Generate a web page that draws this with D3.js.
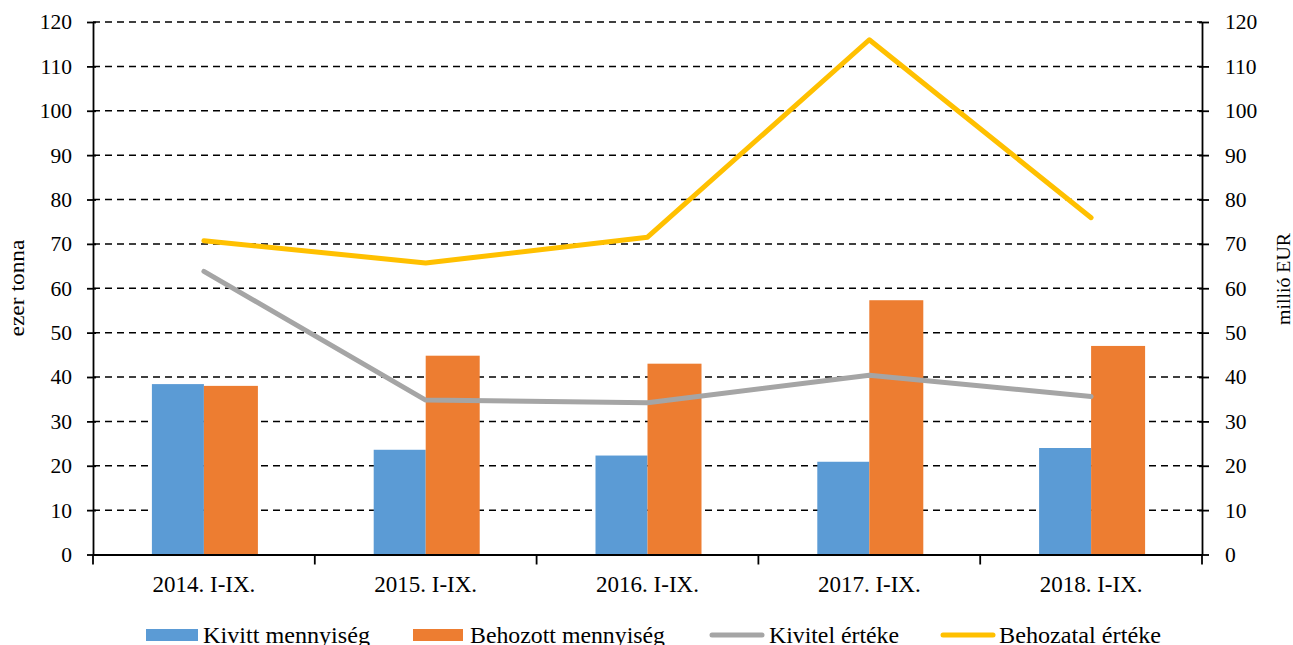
<!DOCTYPE html>
<html><head><meta charset="utf-8">
<script src="https://cdn.jsdelivr.net/npm/d3@7/dist/d3.min.js"></script>
<style>body{margin:0;background:#fff}svg{display:block}text{font-family:"Liberation Serif","Times New Roman",serif;fill:#000}</style>
</head><body>
<svg id="c" width="1293" height="645"></svg>
<script>
const categories = ["2014. I-IX.","2015. I-IX.","2016. I-IX.","2017. I-IX.","2018. I-IX."];
const kivittMennyiseg = [38.4, 23.6, 22.3, 20.9, 24.0];
const behozottMennyiseg = [38.0, 44.8, 43.0, 57.3, 47.0];
const kivitelErteke = [63.8, 34.8, 34.2, 40.4, 35.6];
const behozatalErteke = [70.7, 65.7, 71.5, 116.0, 75.9];
const yTicks = [0,10,20,30,40,50,60,70,80,90,100,110,120];
const leftTitle = "ezer tonna", rightTitle = "millió EUR";
const legendLabels = ["Kivitt mennyiség","Behozott mennyiség","Kivitel értéke","Behozatal értéke"];
const colors = {blue:"#5B9BD5", orange:"#ED7D31", gray:"#A5A5A5", yellow:"#FFC000"};

const svg = d3.select("#c");
const L = 93, R = 1202, T = 22, B = 554.5;
const x = d3.scaleBand().domain(categories).range([L,R]);
const yL = d3.scaleLinear().domain([0,120]).range([B,T]);
const yR = d3.scaleLinear().domain([0,120]).range([B,T]);

// grid
svg.append("g").selectAll("line").data(yTicks.filter(d=>d>0)).join("line")
  .attr("x1",L).attr("x2",R).attr("y1",d=>yL(d)).attr("y2",d=>yL(d))
  .attr("stroke","#000").attr("stroke-width",1.5).attr("stroke-dasharray","7,5");

// bars
const bw = 52;
svg.append("g").selectAll("rect").data(kivittMennyiseg).join("rect")
  .attr("x",(d,i)=>x(categories[i])+x.bandwidth()/2-bw).attr("width",bw)
  .attr("y",d=>yL(d)).attr("height",d=>B-yL(d)).attr("fill",colors.blue);
svg.append("g").selectAll("rect").data(behozottMennyiseg).join("rect")
  .attr("x",(d,i)=>x(categories[i])+x.bandwidth()/2).attr("width",bw+2)
  .attr("y",d=>yL(d)).attr("height",d=>B-yL(d)).attr("fill",colors.orange);

// axes
const leftAxis = d3.axisLeft(yL).tickValues(yTicks).tickSizeInner(6).tickSizeOuter(0).tickPadding(15);
const gl = svg.append("g").attr("transform",`translate(${L},0)`).call(leftAxis);
const rightAxis = d3.axisRight(yR).tickValues(yTicks).tickSizeInner(7).tickSizeOuter(0).tickPadding(16);
const gr = svg.append("g").attr("transform",`translate(${R},0)`).call(rightAxis);
[gl,gr].forEach(g=>{
  g.select(".domain").attr("stroke","#000").attr("stroke-width",1.8);
  g.selectAll(".tick line").attr("stroke","#000").attr("stroke-width",1.8);
  g.selectAll(".tick text").style("font-family","Liberation Serif").style("font-size","21.5px").attr("fill","#000");
});
gl.selectAll(".tick line").attr("x1",3);
gr.selectAll(".tick line").attr("x1",-3);

const xAxis = d3.axisBottom(x).tickSize(0).tickPadding(21);
const gx = svg.append("g").attr("transform",`translate(0,${B})`).call(xAxis);
gx.select(".domain").attr("stroke","#000").attr("stroke-width",1.8);
gx.selectAll(".tick text").style("font-family","Liberation Serif").style("font-size","23px").attr("fill","#000");
// category boundary ticks
svg.append("g").selectAll("line").data(categories.slice(1)).join("line")
  .attr("x1",d=>x(d)).attr("x2",d=>x(d)).attr("y1",B).attr("y2",B+10)
  .attr("stroke","#000").attr("stroke-width",1.8);
svg.append("line").attr("x1",L).attr("x2",L).attr("y1",B).attr("y2",B+10).attr("stroke","#000").attr("stroke-width",1.8);
svg.append("line").attr("x1",R).attr("x2",R).attr("y1",B).attr("y2",B+10).attr("stroke","#000").attr("stroke-width",1.8);

// lines
const line = d3.line().x((d,i)=>x(categories[i])+x.bandwidth()/2).y(d=>yR(d));
svg.append("path").datum(kivitelErteke).attr("d",line).attr("fill","none")
  .attr("stroke",colors.gray).attr("stroke-width",5).attr("stroke-linecap","round").attr("stroke-linejoin","round");
svg.append("path").datum(behozatalErteke).attr("d",line).attr("fill","none")
  .attr("stroke",colors.yellow).attr("stroke-width",5).attr("stroke-linecap","round").attr("stroke-linejoin","round");

// axis titles
svg.append("text").attr("transform","translate(24,288) rotate(-90)").attr("text-anchor","middle")
  .style("font-size","21px").attr("textLength",97).attr("lengthAdjust","spacingAndGlyphs").text(leftTitle);
svg.append("text").attr("transform","translate(1290,279) rotate(-90)").attr("text-anchor","middle")
  .style("font-size","19px").attr("textLength",92).attr("lengthAdjust","spacingAndGlyphs").text(rightTitle);

// legend
const lg = svg.append("g");
const ly = 635;
const items = [
  {type:"rect", x:146, w:52, c:colors.blue, tx:203, tl:167},
  {type:"rect", x:413, w:50, c:colors.orange, tx:470, tl:195},
  {type:"line", x:712, w:50, c:colors.gray, tx:769, tl:130},
  {type:"line", x:943, w:50, c:colors.yellow, tx:999, tl:162}
];
items.forEach((it,i)=>{
  if(it.type==="rect") lg.append("rect").attr("x",it.x).attr("y",ly-6).attr("width",it.w).attr("height",12).attr("fill",it.c);
  else lg.append("line").attr("x1",it.x).attr("x2",it.x+it.w).attr("y1",ly).attr("y2",ly)
    .attr("stroke",it.c).attr("stroke-width",5).attr("stroke-linecap","round");
  lg.append("text").attr("x",it.tx).attr("y",ly+8).style("font-size","23px")
    .attr("textLength",it.tl).attr("lengthAdjust","spacingAndGlyphs").text(legendLabels[i]);
});
</script>
</body></html>
